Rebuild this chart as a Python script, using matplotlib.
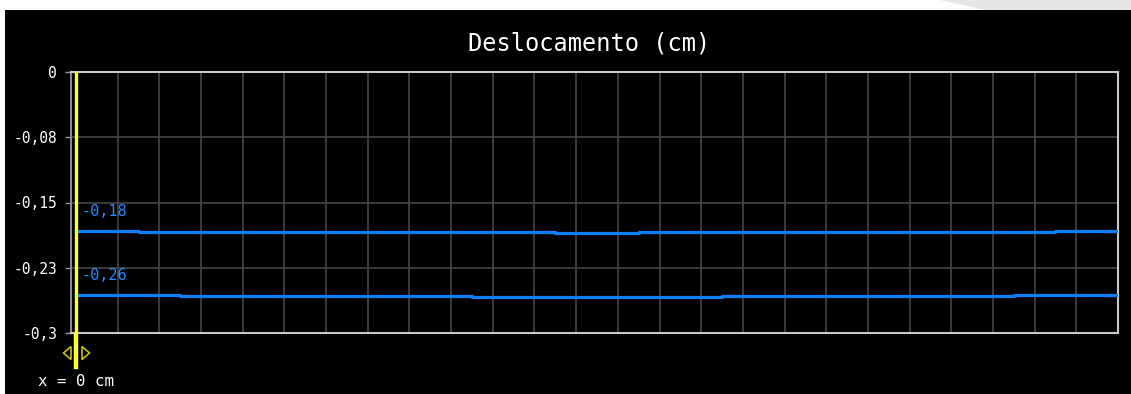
import matplotlib
matplotlib.use("Agg")
import matplotlib.pyplot as plt
import matplotlib.transforms as mtransforms
from matplotlib.patches import Polygon, Rectangle

# posições ao longo da corda (cm) e deslocamentos medidos (cm)
posicoes = list(range(26))
desloc_a = [-0.1828, -0.1828, -0.1840, -0.1840, -0.1840, -0.1840, -0.1840,
            -0.1840, -0.1840, -0.1840, -0.1840, -0.1840, -0.1851, -0.1851,
            -0.1840, -0.1840, -0.1840, -0.1840, -0.1840, -0.1840, -0.1840,
            -0.1840, -0.1840, -0.1840, -0.1828, -0.1828]
desloc_b = [-0.2565, -0.2565, -0.2565, -0.2577, -0.2577, -0.2577, -0.2577,
            -0.2577, -0.2577, -0.2577, -0.2588, -0.2588, -0.2588, -0.2588,
            -0.2588, -0.2588, -0.2577, -0.2577, -0.2577, -0.2577, -0.2577,
            -0.2577, -0.2577, -0.2565, -0.2565, -0.2565]
yticks = [0, -0.075, -0.15, -0.225, -0.3]
ytick_labels = ["0", "-0,08", "-0,15", "-0,23", "-0,3"]
cursor_x = 0

W, H = 1131, 394
fig = plt.figure(figsize=(W / 100, H / 100), dpi=100, facecolor="black")

# faixa clara no topo e na esquerda da captura
fig.add_artist(Rectangle((0, 1 - 10 / H), 1, 10 / H, transform=fig.transFigure,
                         facecolor="white", edgecolor="none"))
fig.add_artist(Rectangle((0, 0), 5 / W, 1, transform=fig.transFigure,
                         facecolor="white", edgecolor="none"))
fig.add_artist(Polygon([(940 / W, 1), (1, 1), (1, 1 - 10 / H), (985 / W, 1 - 10 / H)],
                       transform=fig.transFigure, facecolor="#e6e6e4", edgecolor="none"))

ax = fig.add_axes([71 / W, 1 - 333 / H, (1118 - 71) / W, (333 - 72) / H])
ax.set_facecolor("black")

mono = "DejaVu Sans Mono"
azul = "#0a7fff"

ax.plot(posicoes, desloc_a, color=azul, lw=2.3, drawstyle="steps-mid", zorder=3)
ax.plot(posicoes, desloc_b, color=azul, lw=2.3, drawstyle="steps-mid", zorder=3)

for serie in (desloc_a, desloc_b):
    rotulo = f"{serie[0]:.2f}".replace(".", ",")
    ax.annotate(rotulo, (posicoes[0], serie[0]), xytext=(4, 9),
                textcoords="offset points", color="#1e8fff", fontsize=11,
                family=mono, va="bottom", ha="left", zorder=4)

ax.set_xlim(-0.12, 25)
ax.set_ylim(-0.3, 0)
ax.set_xticks(posicoes)
ax.set_xticklabels([])
ax.tick_params(axis="x", length=0)
ax.set_yticks(yticks)
ax.set_yticklabels(ytick_labels, family=mono, fontsize=10.5, color="white")
ax.tick_params(axis="y", length=4, width=1, color="#9a9a9a", pad=6)
ax.grid(True, color="#464646", lw=1.2)
ax.set_axisbelow(True)
for lado in ("top", "bottom", "right"):
    ax.spines[lado].set_color("#c8c8c8")
    ax.spines[lado].set_linewidth(1.5)
ax.spines["left"].set_color("#8a8a8a")
ax.spines["left"].set_linewidth(1.5)

# cursor vertical com a alça de arraste
amarelo = "#ffff30"
ax.axvline(cursor_x, ymin=0, ymax=1, color=amarelo, lw=2.4, zorder=5)
trans_x = mtransforms.blended_transform_factory(ax.transData, fig.transFigure)
ax.plot([cursor_x, cursor_x], [1 - 335 / H, 1 - 367 / H], transform=trans_x,
        color=amarelo, lw=3.2, clip_on=False, zorder=5)

# setas da alça, desenhadas em pixels a partir da posição do cursor
cx = ax.transData.transform((cursor_x, 0))[0]
cy = H - 353
seta_esq = [(cx - 5, cy - 6.5), (cx - 5, cy + 6.5), (cx - 12.5, cy)]
seta_dir = [(cx + 6, cy - 6.5), (cx + 6, cy + 6.5), (cx + 13.5, cy)]
for pts in (seta_esq, seta_dir):
    fig.add_artist(Polygon(pts, closed=True, transform=None, facecolor="none",
                           edgecolor="#d8cc00", lw=1.1))

ax.text(cursor_x, 1 - 381 / H, f"x = {cursor_x} cm", transform=trans_x,
        ha="center", va="center", color="white", family=mono, fontsize=11.3)

fig.text(589 / W, 1 - 44 / H, "Deslocamento (cm)", ha="center", va="center",
         color="white", family=mono, fontsize=17)

fig.savefig("out.png", dpi=100, facecolor=fig.get_facecolor())
